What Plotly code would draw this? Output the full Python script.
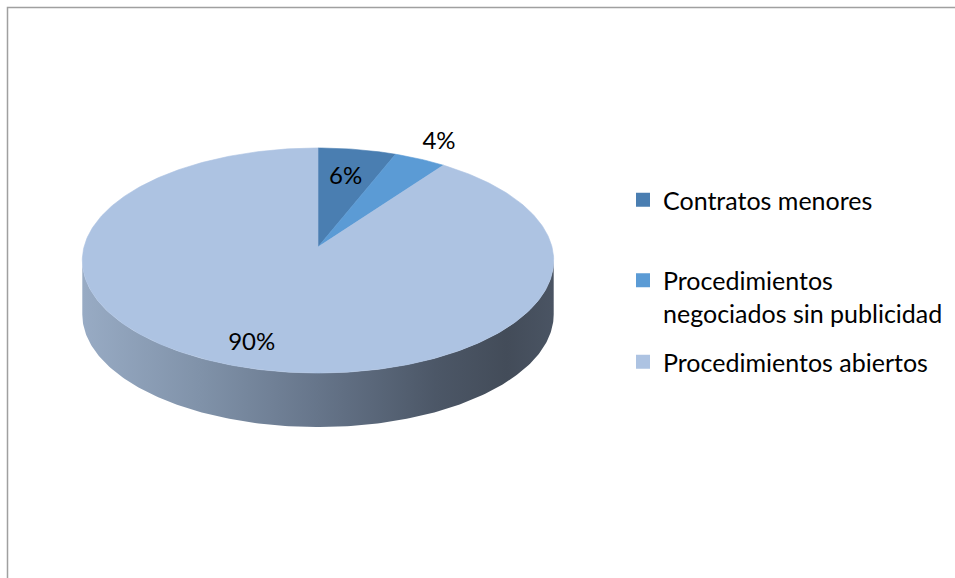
import numpy as np
import plotly.graph_objects as go

# ---- data ----
categories = ["Contratos menores", "Procedimientos negociados sin publicidad", "Procedimientos abiertos"]
legend_labels = ["Contratos menores", "Procedimientos<br>negociados sin publicidad", "Procedimientos abiertos"]
values = [6, 4, 90]
colors = ["#4a7eb1", "#5b9bd5", "#adc3e2"]

# ---- geometry of the tilted (3-D look) pie, in pixel-like axis units ----
CX, AY = 318.0, 247.0        # centre (apex) of the pie top
RX, A, B = 234.0, 110.9, 0.12  # horizontal radius, vertical scale, perspective factor
SHIFT = 54.0                 # visible thickness of the side wall
FONT = "Lato, 'Open Sans', sans-serif"


def proj(theta_deg, r=1.0):
    t = np.radians(theta_deg)
    u, v = r * np.sin(t), r * np.cos(t)
    d = 1 + B * v
    return CX + RX * u / d, AY - A * v / d


total = float(sum(values))
cum = np.concatenate([[0], np.cumsum(values)]) / total * 360.0

fig = go.Figure()

# side wall (front part of the cylinder)
th_r = np.degrees(np.arccos(-B))
th_l = 360 - th_r
arc = np.linspace(th_r, th_l, 200)
tx, ty = proj(arc)
wx = np.concatenate([tx, tx[::-1]])
wy = np.concatenate([ty, ty[::-1] + SHIFT])
fig.add_trace(go.Scatter(
    x=wx, y=wy, mode="lines", fill="toself", line=dict(width=0),
    fillgradient=dict(type="horizontal", colorscale=[
        [0.0, "#98abc4"], [0.25, "#8092a9"], [0.5, "#66758a"],
        [0.75, "#4c5767"], [0.9, "#434c59"], [1.0, "#4a5463"]]),
    showlegend=False, hoverinfo="skip"))

# top faces of the slices
for i, (cat, val) in enumerate(zip(categories, values)):
    th = np.linspace(cum[i], cum[i + 1], max(8, int(val * 4)))
    ax_, ay_ = proj(th)
    xs = np.concatenate([[CX], ax_, [CX]])
    ys = np.concatenate([[AY], ay_, [AY]])
    fig.add_trace(go.Scatter(
        x=xs, y=ys, mode="lines", fill="toself", fillcolor=colors[i],
        line=dict(width=0.6, color=colors[i]), name=cat,
        showlegend=False, hoverinfo="text", text=f"{cat}: {val}%"))

# percentage labels
label_r = [0.68, 1.21, 0.83]
mids = [(cum[i] + cum[i + 1]) / 2 for i in range(len(values))]
lx, ly = zip(*[proj(m, r) for m, r in zip(mids, label_r)])
fig.add_trace(go.Scatter(
    x=list(lx), y=list(ly), mode="text",
    text=[f"{round(v / total * 100)}%" for v in values],
    textfont=dict(family=FONT, size=24, color="#000000"),
    showlegend=False, hoverinfo="skip"))

# legend entries (one legend each, to reproduce the spacing)
legend_names = ["legend", "legend2", "legend3"]
legend_y = [200, 296.5, 362]
for i in range(len(values)):
    fig.add_trace(go.Scatter(
        x=[None], y=[None], mode="markers", name=legend_labels[i],
        marker=dict(symbol="square", size=14, color=colors[i]),
        legend=legend_names[i], showlegend=True))

H = 578.0
W = 955.0
leg_common = dict(font=dict(family=FONT, size=25, color="#000000"),
                  bgcolor="rgba(0,0,0,0)", borderwidth=0,
                  xanchor="left", yanchor="middle", valign="top",
                  itemclick=False, itemdoubleclick=False)

fig.update_layout(
    width=955, height=578,
    margin=dict(l=0, r=0, t=0, b=0),
    paper_bgcolor="white", plot_bgcolor="white",
    xaxis=dict(range=[0, W], visible=False, fixedrange=True),
    yaxis=dict(range=[H, 0], visible=False, fixedrange=True),
    legend=dict(x=623 / W, y=1 - legend_y[0] / H, **leg_common),
    legend2=dict(x=623 / W, y=1 - legend_y[1] / H, **leg_common),
    legend3=dict(x=623 / W, y=1 - legend_y[2] / H, **leg_common),
    shapes=[dict(type="rect", xref="x", yref="y", x0=7.5, y0=7.5, x1=1200, y1=900,
                 line=dict(color="#a0a0a0", width=1.5), layer="above")],
)

fig.write_html(
    "out.html",
    config={"displayModeBar": False},
    post_script="document.body.style.margin='0';document.body.style.overflow='hidden';",
)
